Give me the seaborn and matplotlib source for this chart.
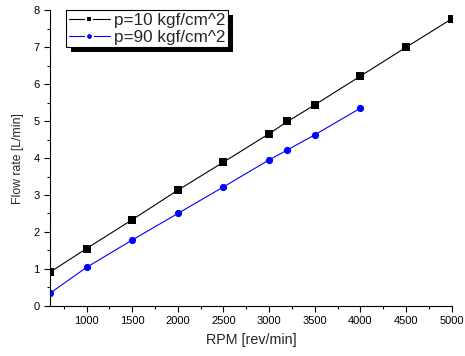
import seaborn as sns
import matplotlib.pyplot as plt
import pandas as pd
from matplotlib.ticker import MultipleLocator
from matplotlib.patches import Rectangle
from matplotlib.lines import Line2D
from matplotlib.transforms import IdentityTransform

rpm_10 = [600, 1000, 1500, 2000, 2500, 3000, 3200, 3500, 4000, 4500, 5000]
flow_10 = [0.91, 1.55, 2.33, 3.13, 3.89, 4.66, 4.99, 5.44, 6.22, 7.0, 7.77]
rpm_90 = [600, 1000, 1500, 2000, 2500, 3000, 3200, 3500, 4000]
flow_90 = [0.34, 1.04, 1.78, 2.50, 3.22, 3.95, 4.22, 4.63, 5.35]
labels = ['p=10 kgf/cm^2', 'p=90 kgf/cm^2']
colors = ['black', '#0000ff']
markers = ['s', 'o']

df = pd.concat([
    pd.DataFrame({'rpm': rpm_10, 'flow': flow_10, 'series': labels[0]}),
    pd.DataFrame({'rpm': rpm_90, 'flow': flow_90, 'series': labels[1]}),
])

sns.set_style('ticks')
plt.rcParams['font.family'] = ['Liberation Sans', 'DejaVu Sans']

fig = plt.figure(figsize=(4.65, 3.56), dpi=100)
ax = fig.add_axes([0.1075, 0.141, 0.864, 0.83])

sns.lineplot(data=df, x='rpm', y='flow', hue='series', style='series',
             palette=colors, markers=markers, dashes=False,
             markersize=5.2, markeredgewidth=0, linewidth=0.8, ax=ax,
             legend=False)

ax.set_xlim(600, 5000)
ax.set_ylim(0, 8)
ax.xaxis.set_minor_locator(MultipleLocator(250))
ax.yaxis.set_major_locator(MultipleLocator(1))
ax.yaxis.set_minor_locator(MultipleLocator(0.5))
ax.set_xticks([1000, 1500, 2000, 2500, 3000, 3500, 4000, 4500, 5000])
ax.tick_params(which='major', length=4, width=0.8, labelsize=8, color='black', labelcolor='black')
ax.tick_params(which='minor', length=2.5, width=0.8, color='black')
for s in ['left', 'bottom']:
    ax.spines[s].set_color('black')
    ax.spines[s].set_linewidth(0.8)
sns.despine(ax=ax)

ax.set_xlabel('RPM [rev/min]', fontsize=10.3, labelpad=5)
ax.set_ylabel('Flow rate [L/min]', fontsize=8.8, labelpad=7)

# legend handles: white marker edge gives the small gap in the line
handles = [Line2D([], [], color=c, marker=m, markersize=5, mfc=c,
                  mec='white', mew=1.5, linewidth=0.8)
           for c, m in zip(colors, markers)]
leg = ax.legend(handles, labels, loc='upper left', bbox_to_anchor=(0.04, 1.0),
                fontsize=12.3, frameon=True, fancybox=False, edgecolor='black',
                framealpha=1, handlelength=2.4, borderpad=0.15,
                labelspacing=0.12, handletextpad=0.25, borderaxespad=0)
leg.get_frame().set_linewidth(0.8)

# solid black drop shadow behind the legend box
fig.canvas.draw()
bb = leg.get_window_extent()
ax.add_patch(Rectangle((bb.x0 + 5, bb.y0 - 5), bb.width, bb.height,
                       transform=IdentityTransform(), facecolor='black',
                       edgecolor='none', zorder=4.9, clip_on=False))

fig.savefig('out.png', dpi=100)
